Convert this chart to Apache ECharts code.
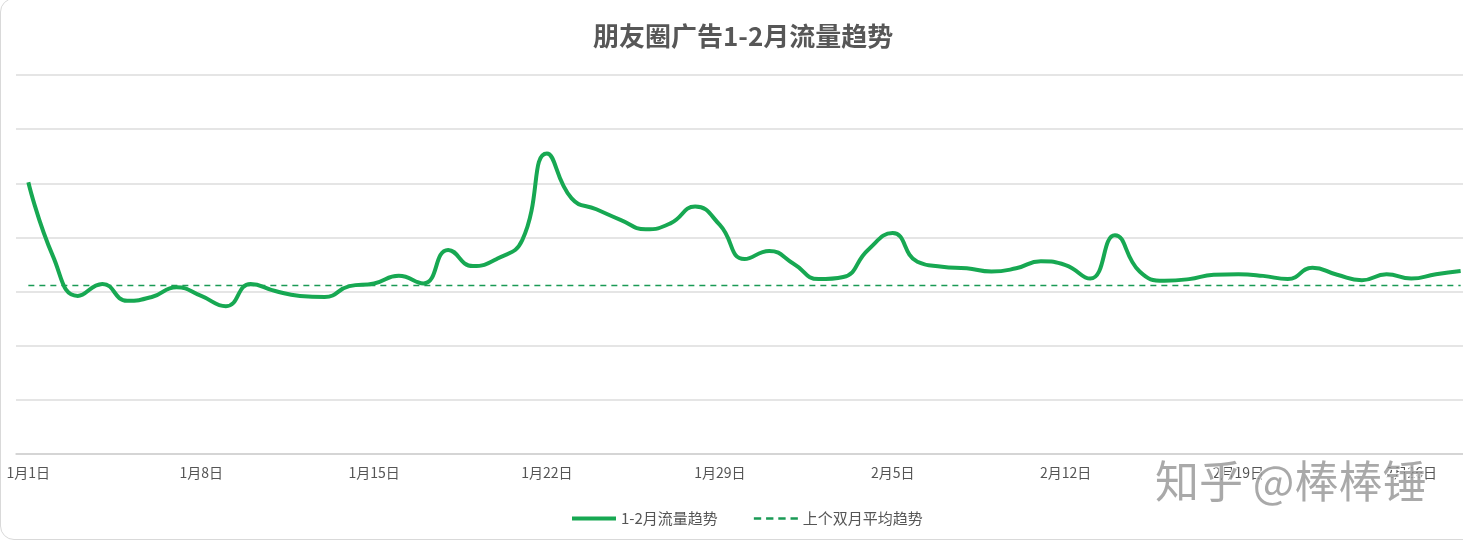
<!DOCTYPE html>
<html>
<head>
<meta charset="utf-8">
<script src="https://cdn.jsdelivr.net/npm/echarts@6/dist/echarts.min.js"></script>
<style>
html,body{margin:0;padding:0;overflow:hidden;background:#fff;width:1463px;height:543px;}
#frame{position:absolute;left:0;top:-2px;width:1490px;height:542px;border:1.5px solid #d9d9d9;border-radius:14px;box-sizing:border-box;}
#chart{position:absolute;left:0;top:0;width:1500px;height:543px;}
</style>
</head>
<body>
<div id="frame"></div>
<div id="chart"></div>
<script>
var categories = [
  '1月1日','1月2日','1月3日','1月4日','1月5日','1月6日','1月7日','1月8日','1月9日','1月10日',
  '1月11日','1月12日','1月13日','1月14日','1月15日','1月16日','1月17日','1月18日','1月19日','1月20日',
  '1月21日','1月22日','1月23日','1月24日','1月25日','1月26日','1月27日','1月28日','1月29日','1月30日',
  '1月31日','2月1日','2月2日','2月3日','2月4日','2月5日','2月6日','2月7日','2月8日','2月9日',
  '2月10日','2月11日','2月12日','2月13日','2月14日','2月15日','2月16日','2月17日','2月18日','2月19日',
  '2月20日','2月21日','2月22日','2月23日','2月24日','2月25日','2月26日','2月27日','2月28日'
];
var trafficValues = [
  502, 365, 292, 314, 283, 290, 308, 292, 273, 314,
  301, 292, 290, 310, 315, 329, 315, 377, 347, 361,
  395, 555, 472, 452, 432, 415, 426, 457, 423, 360,
  375, 351, 323, 327, 377, 408, 355, 346, 343, 337,
  343, 356, 349, 324, 404, 337, 320, 323, 331, 332,
  329, 323, 344, 331, 321, 332, 324, 332, 338
];
var previousAverage = 311;
var averageValues = categories.map(function(){ return previousAverage; });
var seriesNames = ['1-2月流量趋势', '上个双月平均趋势'];
var titleText = '朋友圈广告1-2月流量趋势';
var watermarkText = '知乎 @棒棒锤';

var chart = echarts.init(document.getElementById('chart'));
chart.setOption({
  animation: false,
  title: {
    text: titleText,
    left: 588, top: 18,
    textStyle: { fontSize: 26, fontWeight: 'bold', color: '#575757', fontFamily: '"Noto Sans CJK SC", sans-serif' }
  },
  legend: {
    data: [
      { name: seriesNames[0], icon: 'rect' },
      { name: seriesNames[1], icon: 'path://M0,0h6v2h-6z M10,0h6v2h-6z M20,0h6v2h-6z M30,0h6v2h-6z' }
    ],
    left: 567, top: 506,
    itemWidth: 44, itemHeight: 4, itemGap: 36, padding: 5,
    textStyle: { fontSize: 15, color: '#555', fontFamily: '"Noto Sans CJK SC", sans-serif' }
  },
  grid: { left: 16, top: 75, width: 1457, height: 379, containLabel: false },
  xAxis: {
    type: 'category',
    data: categories,
    boundaryGap: true,
    axisLine: { lineStyle: { color: '#cfcfcf', width: 1.5 } },
    axisTick: { interval: 6, length: 5, lineStyle: { color: '#cfcfcf' } },
    axisLabel: { interval: 6, color: '#555', fontSize: 14, margin: 12, fontFamily: '"Noto Sans CJK SC", sans-serif' },
    splitLine: { show: false }
  },
  yAxis: {
    type: 'value',
    min: 0, max: 700, interval: 100,
    axisLabel: { show: false },
    axisLine: { show: false },
    axisTick: { show: false },
    splitLine: { lineStyle: { color: '#dcdcdc', width: 1.5 } }
  },
  graphic: [{
    type: 'text',
    left: 1154, top: 458,
    z: 100,
    style: {
      text: watermarkText,
      fontSize: 44,
      fill: 'rgba(140,140,140,0.75)',
      stroke: 'rgba(255,255,255,0.9)',
      lineWidth: 2,
      fontFamily: '"Noto Sans CJK SC", sans-serif'
    }
  }],
  series: [
    {
      name: seriesNames[0],
      type: 'line',
      data: trafficValues,
      smooth: true,
      symbol: 'none',
      lineStyle: { color: '#17a852', width: 4 },
      itemStyle: { color: '#17a852' },
      z: 3
    },
    {
      name: seriesNames[1],
      type: 'line',
      data: averageValues,
      symbol: 'none',
      lineStyle: { color: '#1a9a55', width: 1.5, type: [6, 5] },
      itemStyle: { color: '#1a9a55' },
      z: 2
    }
  ]
});
</script>
</body>
</html>
